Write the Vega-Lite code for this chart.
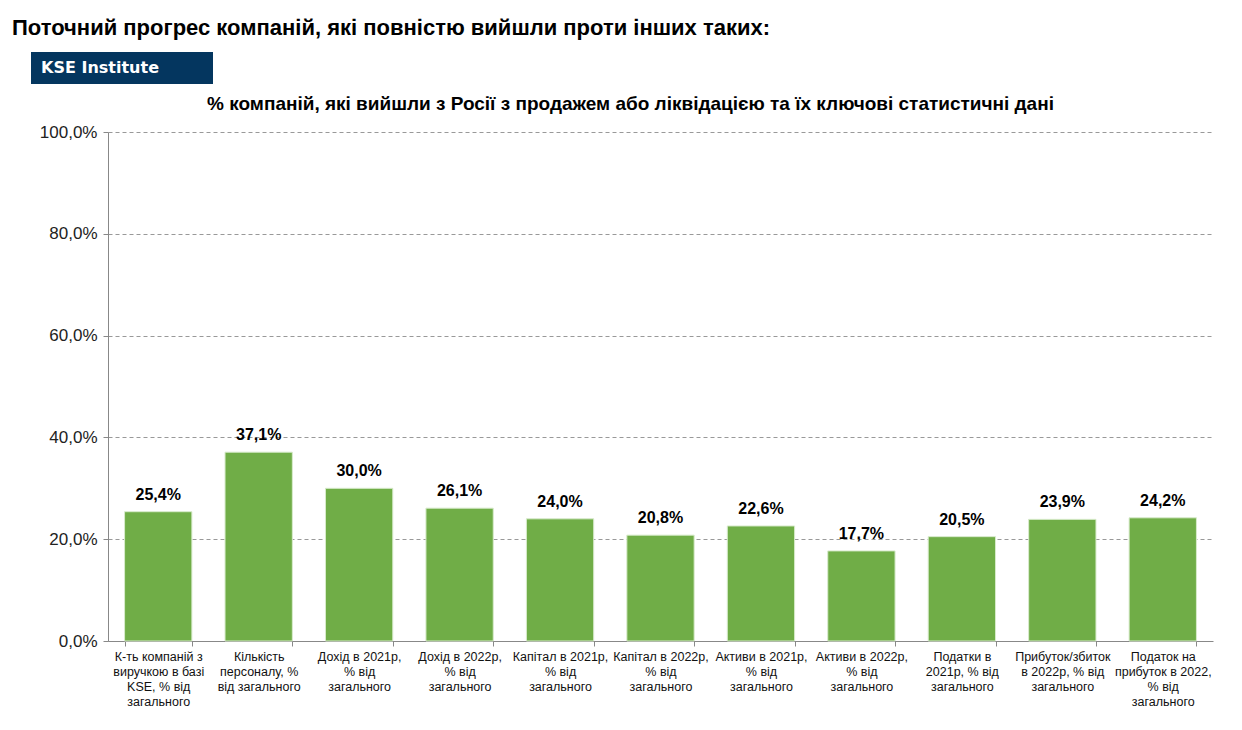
{
  "$schema": "https://vega.github.io/schema/vega-lite/v6.json",
  "padding": {"left": 12, "top": 17, "right": 10, "bottom": 5},
  "background": "white",
  "title": {
    "text": "Поточний прогрес компаній, які повністю вийшли проти інших таких:",
    "anchor": "start",
    "dx": -19,
    "fontSize": 22,
    "fontWeight": "bold",
    "font": "Liberation Sans",
    "color": "#000000",
    "offset": 12
  },
  "config": {
    "font": "Liberation Sans",
    "view": {"stroke": null},
    "locale": {
      "number": {"decimal": ",", "thousands": " ", "grouping": [3], "currency": ["", ""]}
    }
  },
  "spacing": 11,
  "vconcat": [
    {
      "width": 182,
      "height": 32,
      "view": {"fill": "#04365f", "stroke": null},
      "data": {"values": [{"brand": "KSE Institute"}]},
      "mark": {"type": "text", "font": "DejaVu Sans", "fontWeight": "bold", "fontSize": 16, "color": "white", "dx": -22, "align": "center", "baseline": "middle"},
      "encoding": {"text": {"field": "brand"}}
    },
    {
      "spacing": 0,
      "hconcat": [
        {
          "width": 8,
          "height": 509,
          "data": {"values": []},
          "mark": "point"
        },
        {
          "width": 1105,
          "height": 509,
          "title": {
            "text": "% компаній, які вийшли з Росії з продажем або ліквідацією та їх ключові статистичні дані",
            "anchor": "middle",
            "dx": -30,
            "fontSize": 19,
            "fontWeight": "bold",
            "color": "#000000",
            "offset": 9
          },
          "data": {
            "values": [
              {"metric": "К-ть компаній з|виручкою в базі|KSE, % від|загального", "share": 0.254},
              {"metric": "Кількість|персоналу, %|від загального", "share": 0.371},
              {"metric": "Дохід в 2021р,|% від|загального", "share": 0.300},
              {"metric": "Дохід в 2022р,|% від|загального", "share": 0.261},
              {"metric": "Капітал в 2021р,|% від|загального", "share": 0.240},
              {"metric": "Капітал в 2022р,|% від|загального", "share": 0.208},
              {"metric": "Активи в 2021р,|% від|загального", "share": 0.226},
              {"metric": "Активи в 2022р,|% від|загального", "share": 0.177},
              {"metric": "Податки в|2021р, % від|загального", "share": 0.205},
              {"metric": "Прибуток/збиток|в 2022р, % від|загального", "share": 0.239},
              {"metric": "Податок на|прибуток в 2022,|% від|загального", "share": 0.242}
            ]
          },
          "encoding": {
            "x": {
              "field": "metric",
              "type": "nominal",
              "sort": null,
              "scale": {"paddingInner": 0.33, "paddingOuter": 0.165},
              "axis": {
                "title": null,
                "labelAngle": 0,
                "labelExpr": "split(datum.label, '|')",
                "labelFontSize": 12.5,
                "labelLineHeight": 15,
                "labelColor": "#111111",
                "labelPadding": 4,
                "labelLimit": 0,
                "tickBand": "extent",
                "tickSize": 5,
                "tickColor": "#888888",
                "domainColor": "#888888"
              }
            },
            "y": {
              "field": "share",
              "type": "quantitative",
              "scale": {"domain": [0, 1]},
              "axis": {
                "title": null,
                "values": [0, 0.2, 0.4, 0.6, 0.8, 1],
                "format": ".1%",
                "labelFontSize": 17,
                "labelColor": "#222222",
                "labelPadding": 6,
                "tickSize": 5,
                "tickColor": "#888888",
                "domainColor": "#888888",
                "gridColor": "#999999",
                "gridDash": [4, 3]
              }
            }
          },
          "layer": [
            {
              "mark": {"type": "bar", "color": "#70ad47", "stroke": "#d8ebcc", "strokeWidth": 1}
            },
            {
              "mark": {"type": "text", "baseline": "bottom", "dy": -9, "fontSize": 16, "fontWeight": "bold", "color": "#000000"},
              "encoding": {"text": {"field": "share", "type": "quantitative", "format": ".1%"}}
            }
          ]
        }
      ]
    }
  ]
}
